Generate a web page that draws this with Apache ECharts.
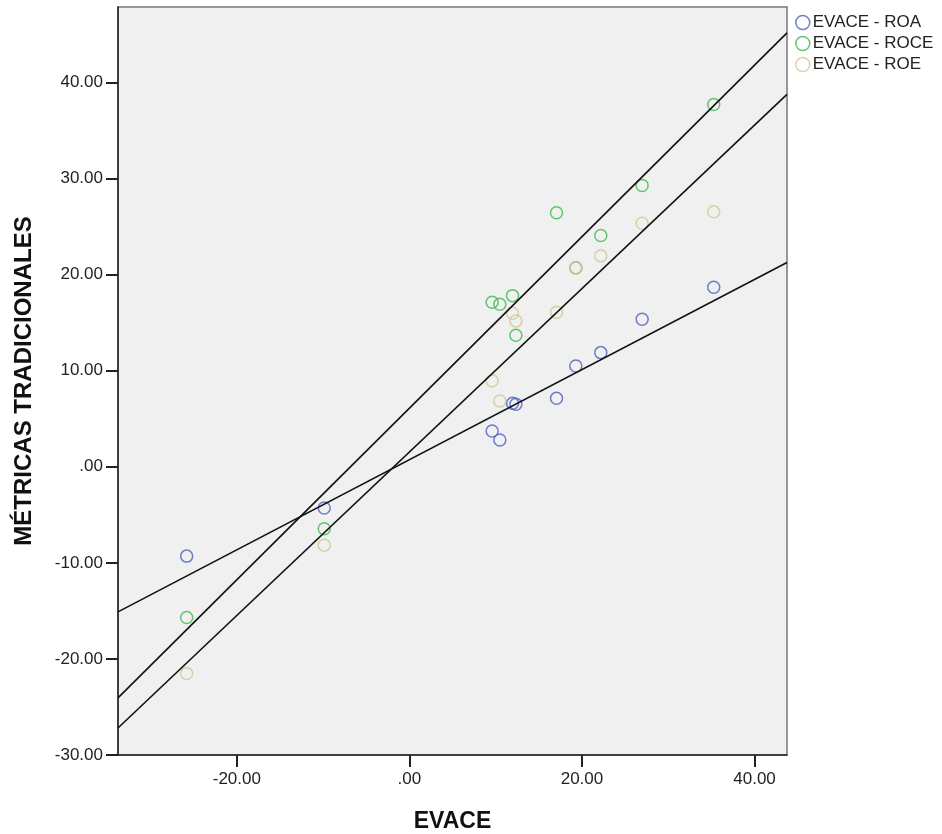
<!DOCTYPE html>
<html>
<head>
<meta charset="utf-8">
<script src="https://cdn.jsdelivr.net/npm/echarts@6/dist/echarts.min.js"></script>
<style>
  html, body { margin: 0; padding: 0; background: #fff; }
  #chart { width: 942px; height: 834px; }
</style>
</head>
<body>
<div id="chart"></div>
<script>
// EVACE values (shared by the three series)
const evace = [-25.81, -9.87, 9.59, 10.48, 11.95, 12.34, 17.05, 19.29, 22.18, 26.97, 35.27]
const roa = [-9.30, -4.30, 3.72, 2.78, 6.60, 6.50, 7.12, 10.49, 11.88, 15.36, 18.69]
const roce = [-15.69, -6.46, 17.13, 16.92, 17.81, 13.69, 26.43, 20.70, 24.06, 29.27, 37.71]
const roe = [-21.52, -8.16, 8.96, 6.84, 15.98, 15.18, 16.08, 20.70, 21.95, 25.35, 26.53]

// fit line ends, read at the plot edges
const fitX = [-33.77, 43.76]
const fitRoa = [-15.10, 21.25]
const fitRoce = [-24.06, 45.15]
const fitRoe = [-27.19, 38.75]

const xTicks = [-20, 0, 20, 40]
const yTicks = [-30, -20, -10, 0, 10, 20, 30, 40]

const names = ['EVACE - ROA', 'EVACE - ROCE', 'EVACE - ROE']
const colors = ['#4a62c0', '#3cba4c', '#cfc893']

const FONT = '"Liberation Sans", Arial, sans-serif'

const fmt = (v) => {
  const s = Number(v).toFixed(2)
  return s.replace(/^0\./, '.').replace(/^-0\./, '-.')
}

const pairs = (xs, ys) => xs.map((x, i) => [x, ys[i]])

const chart = echarts.init(document.getElementById('chart'))

const scatter = (name, ys, color) => ({
  name: name,
  type: 'scatter',
  data: pairs(evace, ys),
  symbol: 'circle',
  symbolSize: 12,
  itemStyle: { color: 'rgba(0,0,0,0)', borderColor: color, borderWidth: 1.5 },
  emphasis: { disabled: true },
  z: 2
})

const fit = (ys) => ({
  type: 'line',
  data: pairs(fitX, ys),
  symbol: 'none',
  silent: true,
  lineStyle: { color: '#111', width: 1.6 },
  z: 3
})

chart.setOption({
  animation: false,
  textStyle: { fontFamily: FONT },
  grid: {
    left: 118, top: 7, right: 155, bottom: 79,
    containLabel: false,
    outerBoundsMode: 'none',
    show: true,
    backgroundColor: '#f0f0f0',
    borderColor: '#777',
    borderWidth: 1.5
  },
  legend: {
    orient: 'vertical',
    left: 790,
    top: 9,
    itemWidth: 14,
    itemHeight: 14,
    itemGap: 4,
    textStyle: { fontSize: 17, color: '#222', fontFamily: FONT, padding: [0, 0, 0, -2] },
    data: names.map((n, i) => ({
      name: n,
      icon: 'circle',
      itemStyle: { color: 'rgba(0,0,0,0)', borderColor: colors[i], borderWidth: 1.5 }
    }))
  },
  xAxis: {
    type: 'value',
    min: fitX[0],
    max: fitX[1],
    name: 'EVACE',
    nameLocation: 'middle',
    nameGap: 55,
    nameTextStyle: { fontSize: 23, fontWeight: 'bold', color: '#111', fontFamily: FONT },
    splitLine: { show: false },
    axisLine: { onZero: false, lineStyle: { color: '#222', width: 1.5 } },
    axisTick: { length: 12, lineStyle: { color: '#222', width: 2 }, customValues: xTicks },
    axisLabel: { margin: 16, fontSize: 17, color: '#222', formatter: fmt, customValues: xTicks }
  },
  yAxis: {
    type: 'value',
    min: -30,
    max: 47.85,
    name: 'MÉTRICAS TRADICIONALES',
    nameLocation: 'middle',
    nameRotate: 90,
    nameGap: 82,
    nameTextStyle: { fontSize: 24, fontWeight: 'bold', color: '#111', fontFamily: FONT },
    splitLine: { show: false },
    axisLine: { onZero: false, lineStyle: { color: '#222', width: 1.5 } },
    axisTick: { length: 12, lineStyle: { color: '#222', width: 2 }, customValues: yTicks },
    axisLabel: { margin: 15, fontSize: 17, color: '#222', formatter: fmt, customValues: yTicks }
  },
  series: [
    scatter(names[0], roa, colors[0]),
    scatter(names[1], roce, colors[1]),
    scatter(names[2], roe, colors[2]),
    fit(fitRoa),
    fit(fitRoce),
    fit(fitRoe)
  ]
})
</script>
</body>
</html>
